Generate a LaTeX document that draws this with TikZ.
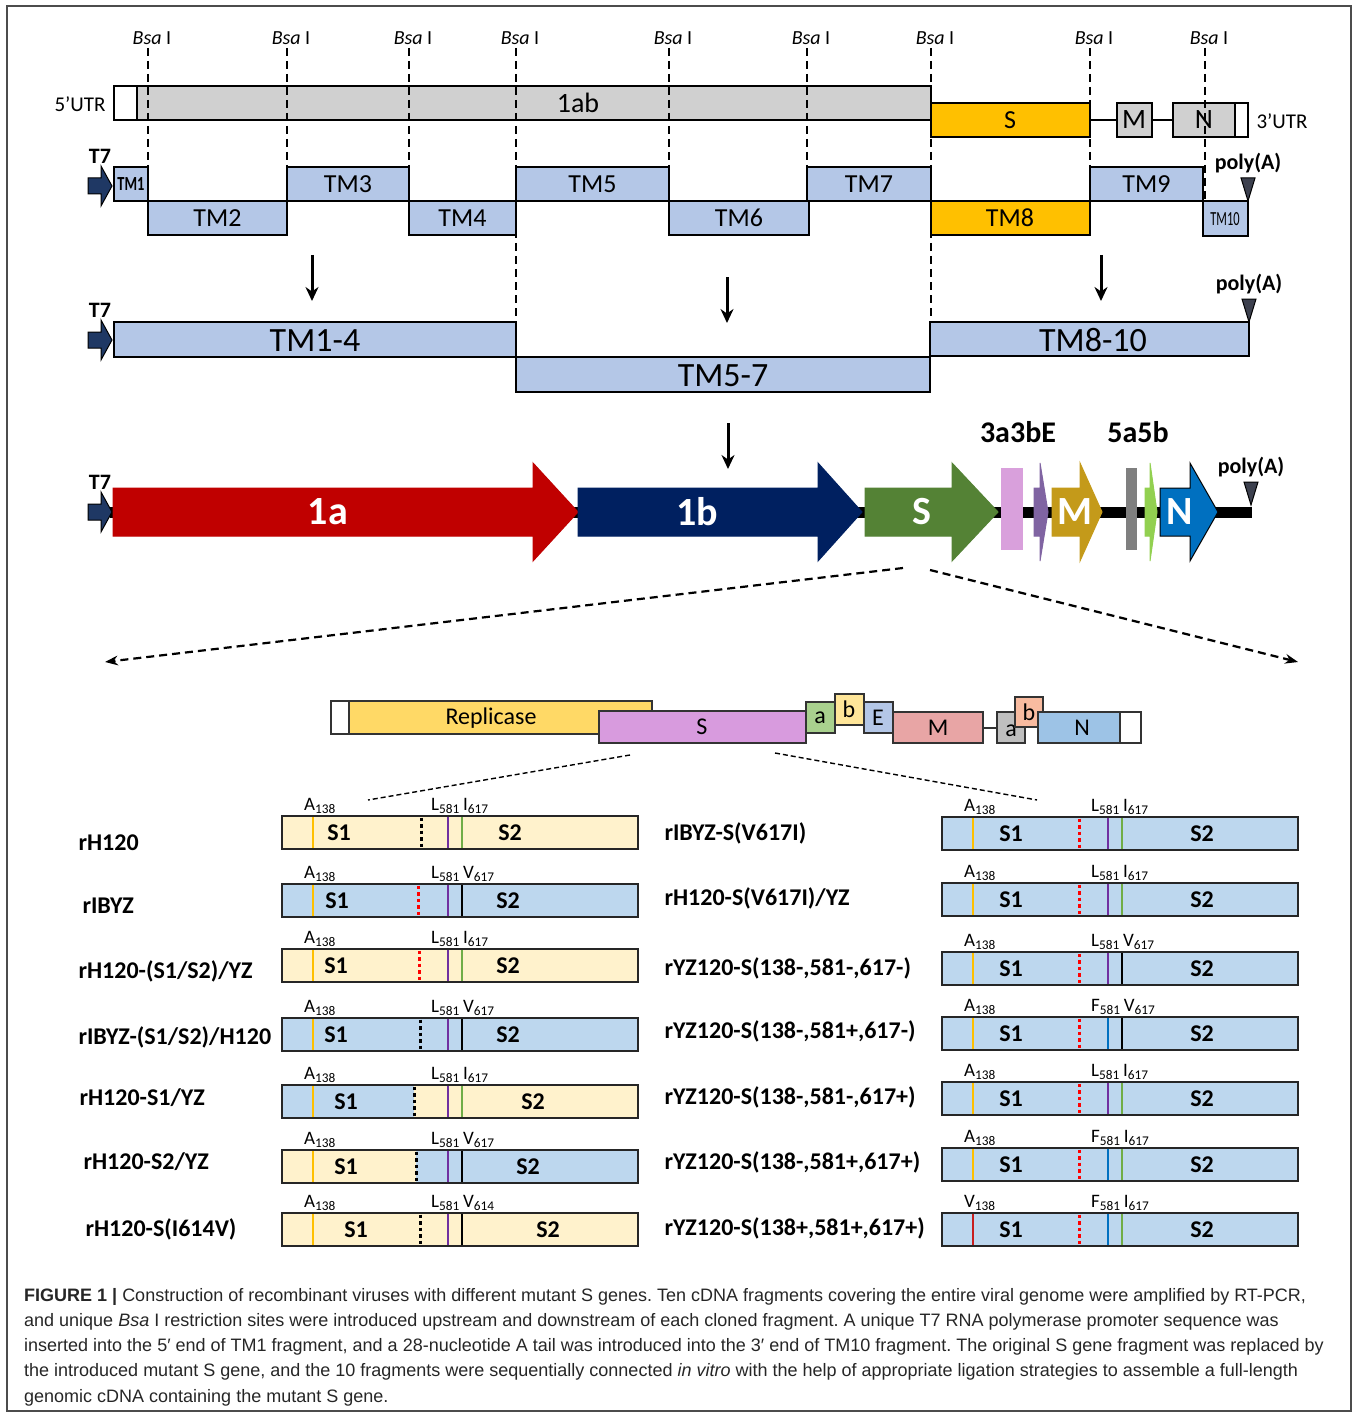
\documentclass[tikz,border=0pt]{standalone}
\usepackage{fontspec}
\setmainfont{Carlito}
\newfontfamily\capfont{Liberation Sans}
\usetikzlibrary{arrows.meta}
\definecolor{orfgray}{RGB}{208,208,208}
\definecolor{sorange}{RGB}{255,192,0}
\definecolor{tmblue}{RGB}{180,199,231}
\definecolor{tnavy}{RGB}{31,56,100}
\definecolor{tridark}{RGB}{60,64,78}
\definecolor{orfred}{RGB}{192,0,0}
\definecolor{orfnavy}{RGB}{0,32,96}
\definecolor{orfgreen}{RGB}{84,130,53}
\definecolor{orfpink}{RGB}{217,160,220}
\definecolor{orfpurple}{RGB}{128,100,162}
\definecolor{orfgold}{RGB}{196,154,26}
\definecolor{orfslate}{RGB}{127,127,127}
\definecolor{orflime}{RGB}{146,208,80}
\definecolor{orfblue}{RGB}{0,112,192}
\definecolor{repyellow}{RGB}{255,217,102}
\definecolor{spink}{RGB}{216,155,222}
\definecolor{agreen}{RGB}{169,209,142}
\definecolor{byellow}{RGB}{255,230,153}
\definecolor{eblue}{RGB}{180,199,231}
\definecolor{mred}{RGB}{232,165,165}
\definecolor{agray}{RGB}{191,191,191}
\definecolor{bpeach}{RGB}{248,187,160}
\definecolor{nblue}{RGB}{157,195,230}
\definecolor{hcream}{RGB}{255,242,204}
\definecolor{yzblue}{RGB}{189,215,238}
\definecolor{siteA}{RGB}{255,192,0}
\definecolor{siteL}{RGB}{112,48,160}
\definecolor{siteI}{RGB}{112,173,71}
\definecolor{siteF}{RGB}{0,112,192}
\definecolor{siteV}{RGB}{200,30,30}
\newcommand{\fsz}[1]{\fontsize{#1}{#1}\selectfont}

\begin{document}
\begin{tikzpicture}[x=1pt, y=-1pt, >=Stealth,
  box/.style={draw=black, line width=2.6},
  tmbox/.style={draw=black, line width=2.2, fill=tmblue},
  orgbox/.style={draw=black!80, line width=1.4},
  cutline/.style={dash pattern=on 8pt off 5pt, line width=2.2},
  zoomline/.style={dash pattern=on 5pt off 3pt, line width=1.4},
  dotline/.style={line width=3, dash pattern=on 3.5pt off 3pt},
  downarrow/.style={line width=3, -{Stealth[length=14pt, width=13pt]}},
  bsa/.style={font=\fsz{20}},
  tmlab/.style={font=\fsz{26}},
  bigtm/.style={font=\fsz{34}},
  orflab/.style={font=\bfseries\fsz{40}, text=white},
  orglab/.style={font=\fsz{24}},
  rowlab/.style={font=\bfseries\fsz{24}, anchor=west},
  seglab/.style={font=\bfseries\fsz{24}},
  site/.style={font=\fsz{19}, anchor=base west, inner sep=0},
  tseven/.pic={
    \draw[fill=tnavy, line width=1] (0,-8) -- (13,-8) -- (13,-20) -- (24,0) -- (13,20) -- (13,8) -- (0,8) -- cycle;
    \node[font=\bfseries\fsz{22}] (-lab) at (12,-30) {T7};
  },
  polya/.pic={
    \draw[fill=tridark, line width=1] (-7,-23) -- (7,-23) -- (0,0) -- cycle;
    \node[font=\bfseries\fsz{22}] (-lab) at (0,-38) {poly(A)};
  }]

  \useasboundingbox (0,0) rectangle (1356,1415);
  \draw[black!70, line width=1.2] (7,6) rectangle (1351,1411);

  % ---------- Genome of the parent virus ----------
  \draw[box, fill=white] (114,86) rectangle (137,120);
  \draw[box, fill=orfgray] (137,86) rectangle (931,120);
  \node[font=\fsz{28}] (ab) at (578,103) {1ab};
  \draw[box] (1090,120) -- (1117,120) (1152,120) -- (1173,120);
  \draw[box, fill=sorange] (931,103) rectangle (1090,137);
  \node[font=\fsz{26}] (sgene) at (1010,120) {S};
  \draw[box, fill=orfgray] (1117,103) rectangle (1152,137);
  \node[font=\fsz{28}] (mgene) at (1134,120) {M};
  \draw[box, fill=orfgray] (1173,103) rectangle (1235,137);
  \node[font=\fsz{28}] (ngene) at (1204,120) {N};
  \draw[box, fill=white] (1235,103) rectangle (1248,137);
  \node[font=\fsz{21}] (utrfive) at (80,104) {5'UTR};
  \node[font=\fsz{21}] (utrthree) at (1282,121) {3'UTR};

  % Bsa I sites
  \foreach \x/\e [count=\i] in {148/167, 287/167, 409/167, 516/322, 669/167, 807/167, 931/322, 1090/167, 1205/201} {
    \node[bsa] (bsa\i) at (\x+4,38) {\textit{Bsa} I};
    \draw[cutline] (\x,48) -- (\x,\e);
  }

  % ---------- Ten fragments ----------
  \pic (ta) at (88,186) {tseven};
  \draw[tmbox] (114,167) rectangle (148,201);
  \node[font=\bfseries\fsz{20}, xscale=0.72] (tm1) at (131,184) {TM1};
  \foreach \a/\b/\t/\n in {148/287/201/2, 287/409/167/3, 409/516/201/4, 516/669/167/5, 669/809/201/6, 807/931/167/7, 1090/1203/167/9} {
    \draw[tmbox] (\a,\t) rectangle (\b,\t+34);
    \node[tmlab] (tm\n) at ({(\a+\b)/2},\t+17) {TM\n};
  }
  \draw[tmbox, fill=sorange] (931,201) rectangle (1090,235);
  \node[tmlab] (tm8) at (1010,218) {TM8};
  \draw[tmbox] (1203,201) rectangle (1248,236);
  \node[font=\fsz{20}, xscale=0.62] (tm10) at (1225,219) {TM10};
  \pic (pa) at (1248,201) {polya};

  \foreach \x/\y in {312/255, 727/277, 1101/255, 728/423}
    \draw[downarrow] (\x,\y) -- (\x,\y+46);

  % ---------- Three large fragments ----------
  \pic (tb) at (88,340) {tseven};
  \draw[tmbox] (114,322) rectangle (516,357);
  \node[bigtm] (tmA) at (315,341) {TM1-4};
  \draw[tmbox] (516,357) rectangle (930,392);
  \node[bigtm] (tmB) at (723,376) {TM5-7};
  \draw[tmbox] (930,322) rectangle (1249,356);
  \node[bigtm] (tmC) at (1093,340) {TM8-10};
  \pic (pb) at (1249,322) {polya};

  % ---------- Full-length cDNA ----------
  \draw[line width=11] (110,512) -- (1252,512);
  \pic (tc) at (88,512) {tseven};
  \fill[orfpink] (1001,468) rectangle (1023,550);
  \fill[orfslate] (1126,468) rectangle (1137,550);
  \foreach \a/\h/\b/\c/\d/\t/\lx [count=\i] in {113/533/578/orfred/orfred/1a/328, 578/818/862/orfnavy/orfnavy/1b/697,
      865/952/998/orfgreen/orfgreen/S/922, 1052/1080/1102/orfgold/orfgold/M/1075, 1160/1190/1218/orfblue/black/N/1180,
      1034/1040/1048/orfpurple/orfpurple/{}/1040, 1145/1150/1157/orflime/orflime/{}/1150} {
    \draw[fill=\c, draw=\d, line width=1] (\a,488) -- (\h,488) -- (\h,463) -- (\b,512) -- (\h,561) -- (\h,536) -- (\a,536) -- cycle;
    \node[orflab] (orf\i) at (\lx,512) {\t};
  }
  \node[font=\bfseries\fsz{30}] (tbe) at (1018,432) {3a3bE};
  \node[font=\bfseries\fsz{30}] (fab) at (1138,432) {5a5b};
  \pic (pc) at (1251,505) {polya};

  \coordinate (zl) at (903,568);
  \coordinate (zr) at (930,570);
  \coordinate (el) at (105,662);
  \coordinate (er) at (1298,662);
  \draw[cutline, ->] (zl) -- (el);
  \draw[cutline, ->] (zr) -- (er);

  % ---------- Genome organisation ----------
  \draw[orgbox, fill=white] (331,701) rectangle (349,734);
  \draw[orgbox, fill=repyellow] (349,701) rectangle (652,734);
  \node[orglab] (rep) at (491,718) {Replicase};
  \draw[orgbox, fill=spink] (599,711) rectangle (806,743);
  \node[orglab] (sorg) at (702,727) {S};
  \draw[orgbox, fill=agreen] (806,702) rectangle (835,733);
  \node[orglab] (aorg) at (820,718) {a};
  \draw[orgbox, fill=byellow] (835,694) rectangle (864,725);
  \node[orglab] (borg) at (849,709) {b};
  \draw[orgbox, fill=eblue] (864,702) rectangle (893,733);
  \node[orglab] (eorg) at (878,718) {E};
  \draw[orgbox, fill=mred] (893,712) rectangle (983,743);
  \node[orglab] (morg) at (938,728) {M};
  \draw[orgbox] (983,728) -- (997,728);
  \draw[orgbox, fill=agray] (997,712) rectangle (1025,743);
  \node[orglab] (afive) at (1011,731) {a};
  \draw[orgbox, fill=bpeach] (1015,697) rectangle (1043,727);
  \node[orglab] (bfive) at (1029,712) {b};
  \draw[orgbox, fill=nblue] (1038,712) rectangle (1120,743);
  \node[orglab] (norg) at (1082,728) {N};
  \draw[orgbox, fill=white] (1120,712) rectangle (1141,743);

  \coordinate (cl) at (630,755);
  \coordinate (cr) at (775,753);
  \draw[zoomline] (cl) -- (368,800);
  \draw[zoomline] (cr) -- (1037,800);

  % ---------- Mutant S genes ----------
  \foreach \x/\y/\colL/\colR/\dx/\cd/\ca/\cb/\cc/\la/\lb/\lc/\n/\sa/\sb [count=\i] in {
      282/816/hcream/hcream/139/black/siteA/siteL/siteI/A/L/I/617/57/228,
      282/884/yzblue/yzblue/136/red/siteA/siteL/black/A/L/V/617/55/226,
      282/949/hcream/hcream/137/red/siteA/siteL/siteI/A/L/I/617/54/226,
      282/1018/yzblue/yzblue/138/black/siteA/siteL/black/A/L/V/617/54/226,
      282/1085/yzblue/hcream/132/black/siteA/siteL/siteI/A/L/I/617/64/251,
      282/1150/hcream/yzblue/134/black/siteA/siteL/black/A/L/V/617/64/246,
      282/1213/hcream/hcream/138/black/siteA/siteL/black/A/L/V/614/74/266,
      942/817/yzblue/yzblue/137/red/siteA/siteL/siteI/A/L/I/617/69/260,
      942/883/yzblue/yzblue/137/red/siteA/siteL/siteI/A/L/I/617/69/260,
      942/952/yzblue/yzblue/137/red/siteA/siteL/black/A/L/V/617/69/260,
      942/1017/yzblue/yzblue/137/red/siteA/siteF/black/A/F/V/617/69/260,
      942/1082/yzblue/yzblue/137/red/siteA/siteL/siteI/A/L/I/617/69/260,
      942/1148/yzblue/yzblue/137/red/siteA/siteF/siteI/A/F/I/617/69/260,
      942/1213/yzblue/yzblue/137/red/siteV/siteF/siteI/V/F/I/617/69/260} {
    \begin{scope}[shift={(\x,\y)}]
      \fill[\colL] (0,0) rectangle (\dx,33);
      \fill[\colR] (\dx,0) rectangle (356,33);
      \draw[\ca, line width=1.3] (31,0) -- (31,33);
      \draw[\cb, line width=1.3] (166,0) -- (166,33);
      \draw[\cc, line width=1.3] (180,0) -- (180,33);
      \draw[\cd, dotline] (\dx,1.5) -- (\dx,31.5);
      \draw[black!85, line width=1.8] (0,0) rectangle (356,33);
      \node[seglab] (sone\i) at (\sa,17) {S1};
      \node[seglab] (stwo\i) at (\sb,17) {S2};
      \node[site] (siteA\i) at (22,-6) {\la\textsubscript{138}};
      \node[site] (siteB\i) at (149,-6) {\lb\textsubscript{581}\,\lc\textsubscript{\n}};
    \end{scope}
  }

  \node[rowlab] (rowa) at (75,843) {rH120};
  \node[rowlab] (rowb) at (79,906) {rIBYZ};
  \node[rowlab] (rowc) at (75,971) {rH120-(S1/S2)/YZ};
  \node[rowlab] (rowd) at (75,1037) {rIBYZ-(S1/S2)/H120};
  \node[rowlab] (rowe) at (76,1098) {rH120-S1/YZ};
  \node[rowlab] (rowf) at (80,1162) {rH120-S2/YZ};
  \node[rowlab] (rowg) at (82,1229) {rH120-S(I614V)};
  \node[rowlab] (rowh) at (661,833) {rIBYZ-S(V617I)};
  \node[rowlab] (rowi) at (661,898) {rH120-S(V617I)/YZ};
  \node[rowlab] (rowj) at (661,968) {rYZ120-S(138-,581-,617-)};
  \node[rowlab] (rowk) at (661,1031) {rYZ120-S(138-,581+,617-)};
  \node[rowlab] (rowl) at (661,1097) {rYZ120-S(138-,581-,617+)};
  \node[rowlab] (rowm) at (661,1162) {rYZ120-S(138-,581+,617+)};
  \node[rowlab] (rown) at (661,1228) {rYZ120-S(138+,581+,617+)};

  % ---------- Caption ----------
  \node[anchor=north west, inner sep=0, align=left, text=black!85, font=\capfont\frenchspacing\fontsize{18}{25.2}\selectfont] (cap) at (24,1288)
    {\textbf{FIGURE 1 |} Construction of recombinant viruses with different mutant S genes. Ten cDNA fragments covering the entire viral genome were amplified by RT-PCR,\\
     and unique \textit{Bsa} I restriction sites were introduced upstream and downstream of each cloned fragment. A unique T7 RNA polymerase promoter sequence was\\
     inserted into the 5′ end of TM1 fragment, and a 28-nucleotide A tail was introduced into the 3′ end of TM10 fragment. The original S gene fragment was replaced by\\
     the introduced mutant S gene, and the 10 fragments were sequentially connected \textit{in vitro} with the help of appropriate ligation strategies to assemble a full-length\\
     genomic cDNA containing the mutant S gene.};

\end{tikzpicture}
\end{document}
